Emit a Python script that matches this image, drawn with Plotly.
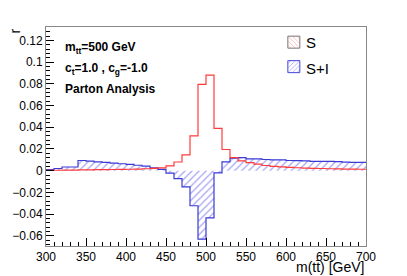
import plotly.graph_objects as go

bin_edges = list(range(300, 710, 10))

s_values = [0.0003, 0.0004, 0.0005, 0.0006, 0.0007, 0.0008, 0.0009, 0.0010, 0.0011, 0.0012,
            0.0013, 0.0015, 0.0018, 0.0021, 0.0025, 0.0045, 0.0080, 0.0146, 0.0320, 0.0795,
            0.0880, 0.0390, 0.0195, 0.0120, 0.0090, 0.0075, 0.0060, 0.0048, 0.0040, 0.0035,
            0.0030, 0.0027, 0.0024, 0.0021, 0.0020, 0.0018, 0.0016, 0.0015, 0.0014, 0.0013]

si_values = [0.0010, 0.0020, 0.0034, 0.0034, 0.0094, 0.0088, 0.0082, 0.0076, 0.0070, 0.0064,
             0.0058, 0.0050, 0.0042, 0.0025, 0.0012, -0.0022, -0.0073, -0.0149, -0.0323, -0.0630,
             -0.0435, -0.0020, 0.0082, 0.0115, 0.0120, 0.0108, 0.0108, 0.0103, 0.0100, 0.0100,
             0.0094, 0.0092, 0.0090, 0.0086, 0.0085, 0.0085, 0.0084, 0.0078, 0.0077, 0.0076]

legend_names = ["S", "S+I"]
y_ticks = [-0.06, -0.04, -0.02, 0, 0.02, 0.04, 0.06, 0.08, 0.1, 0.12]
y_labels = ["\u22120.06", "\u22120.04", "\u22120.02", "0", "0.02", "0.04", "0.06", "0.08", "0.1", "0.12"]
x_ticks = [300, 350, 400, 450, 500, 550, 600, 650, 700]

RED = "#ff3b3b"
BLUE = "#3a3ad6"
FONT = "Liberation Sans, Arial, Helvetica, sans-serif"

fig = go.Figure()

# S+I histogram (hatched fill)
fig.add_trace(go.Scatter(
    x=bin_edges, y=si_values + [si_values[-1]],
    mode="lines", line=dict(shape="hv", color=BLUE, width=1.2),
    fill="tozeroy", fillcolor="rgba(0,0,0,0)",
    fillpattern=dict(shape="/", fgcolor="#4a4aea", bgcolor="rgba(0,0,0,0)", size=5, solidity=0.25),
    showlegend=False, hoverinfo="skip"))

# S histogram (line only)
fig.add_trace(go.Scatter(
    x=bin_edges, y=s_values + [s_values[-1]],
    mode="lines", line=dict(shape="hv", color=RED, width=1.2),
    showlegend=False, hoverinfo="skip"))

# legend swatches (text added as annotations for tight placement)
fig.add_trace(go.Bar(x=[None], y=[None], name="", legendgroup="a",
                     marker=dict(color="rgba(255,255,255,0)", line=dict(color="#777", width=1),
                                 pattern=dict(shape="\\", fgcolor="#ff6060", size=4, solidity=0.25))))
fig.add_trace(go.Bar(x=[None], y=[None], name="", legendgroup="b",
                     marker=dict(color="rgba(255,255,255,0)", line=dict(color="#4444dd", width=1),
                                 pattern=dict(shape="/", fgcolor="#5050ee", size=4, solidity=0.25))))

fig.update_layout(
    width=407, height=276,
    margin=dict(l=41, r=41, t=27, b=28),
    paper_bgcolor="white", plot_bgcolor="white",
    font=dict(family=FONT, color="black", size=12),
    showlegend=True,
    legend=dict(x=0.712, y=1.005, xanchor="left", yanchor="top",
                bgcolor="rgba(0,0,0,0)", font=dict(size=15, family=FONT),
                tracegroupgap=2, itemwidth=30),
    xaxis=dict(range=[300, 700], tickvals=x_ticks, ticks="inside", ticklen=8, tickcolor="black",
               showline=True, linecolor="#888", linewidth=1, mirror=True,
               showgrid=False, zeroline=False, tickfont=dict(size=12),
               minor=dict(dtick=10, ticks="inside", ticklen=4, tickcolor="black")),
    yaxis=dict(range=[-0.0694, 0.1324], tickvals=y_ticks, ticktext=y_labels,
               ticks="inside", ticklen=8, tickcolor="black",
               showline=True, linecolor="#888", linewidth=1, mirror=True,
               showgrid=False, zeroline=False, tickfont=dict(size=12),
               minor=dict(dtick=0.004, tick0=0, ticks="inside", ticklen=4, tickcolor="black")),
    annotations=[
        dict(text="<b>m<sub>tt</sub>=500 GeV</b>", x=0.052, y=0.905, xref="paper", yref="paper",
             xanchor="left", yanchor="middle", showarrow=False, font=dict(size=12)),
        dict(text="<b>c<sub>t</sub>=1.0 , c<sub>g</sub>=-1.0</b>", x=0.052, y=0.81, xref="paper", yref="paper",
             xanchor="left", yanchor="middle", showarrow=False, font=dict(size=12)),
        dict(text="<b>Parton Analysis</b>", x=0.052, y=0.715, xref="paper", yref="paper",
             xanchor="left", yanchor="middle", showarrow=False, font=dict(size=12)),
        dict(text=legend_names[0], x=(303 - 41) / 325, y=(248 - 43) / 221, xref="paper", yref="paper",
             xanchor="left", yanchor="middle", showarrow=False, font=dict(size=15)),
        dict(text=legend_names[1], x=(303 - 41) / 325, y=(248 - 69) / 221, xref="paper", yref="paper",
             xanchor="left", yanchor="middle", showarrow=False, font=dict(size=15)),
        dict(text="m(tt\u0304) [GeV]", x=1.0, y=-0.097, xref="paper", yref="paper",
             xanchor="right", yanchor="middle", showarrow=False, font=dict(size=14)),
        dict(text="r", x=-0.1, y=1.0, xref="paper", yref="paper", textangle=-90,
             xanchor="center", yanchor="top", showarrow=False, font=dict(size=14)),
    ],
)

fig.write_html("out.html", config={"displayModeBar": False},
               post_script="document.body.style.margin='0px';")
